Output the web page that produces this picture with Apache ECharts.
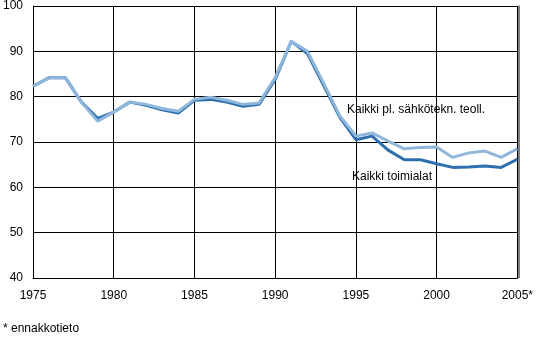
<!DOCTYPE html>
<html><head><meta charset="utf-8">
<script src="https://cdn.jsdelivr.net/npm/echarts@6/dist/echarts.min.js"></script>
<style>html,body{margin:0;padding:0;background:#fff}#c{width:536px;height:340px}</style>
</head><body><div id="c"></div>
<script>
var years = [1975,1976,1977,1978,1979,1980,1981,1982,1983,1984,1985,1986,1987,1988,1989,1990,1991,1992,1993,1994,1995,1996,1997,1998,1999,2000,2001,2002,2003,2004,2005];
var kaikkiToimialat = [82.3,84.2,84.2,78.8,75.2,76.6,78.8,78.1,77.1,76.4,79.2,79.4,78.8,77.9,78.3,83.8,92.2,89.5,82.5,75.5,70.5,71.3,68.2,66.1,66.1,65.2,64.4,64.5,64.7,64.4,66.2];
var kaikkiPl = [82.3,84.2,84.2,78.8,74.6,76.6,78.8,78.3,77.4,76.8,79.4,79.9,79.2,78.3,78.6,84.2,92.2,90.0,83.0,75.8,71.3,72.0,70.2,68.5,68.8,68.9,66.6,67.6,68.0,66.6,68.5];
var seriesNames = ['Kaikki toimialat','Kaikki pl. sähkötekn. teoll.'];
var footnote = '* ennakkotieto';

function pairs(v){return years.map(function(y,i){return [y,v[i]];});}
var chart = echarts.init(document.getElementById('c'));
var font = 'Liberation Sans, Arial, sans-serif';
chart.setOption({
  animation:false,
  grid:{left:32,right:17,top:5.5,bottom:62,containLabel:false},
  xAxis:{type:'value',min:1975,max:2005,interval:5,
    axisLine:{show:true,lineStyle:{color:'#000',width:1}},
    axisTick:{show:false},
    splitLine:{show:true,lineStyle:{color:'#000',width:1}},
    axisLabel:{color:'#000',fontFamily:font,fontSize:12,margin:12,
      formatter:function(v){return v===2005?'2005*':String(v);}}
  },
  yAxis:{type:'value',min:40,max:100,interval:10,
    axisLine:{show:true,lineStyle:{color:'#000',width:1}},
    axisTick:{show:false},
    splitLine:{show:true,lineStyle:{color:'#000',width:1}},
    axisLabel:{color:'#000',fontFamily:font,fontSize:12,margin:10}
  },
  graphic:[
    {type:'text',left:347,top:104,style:{text:seriesNames[1],font:'12px '+font,fill:'#000'}},
    {type:'text',left:352,top:171,style:{text:seriesNames[0],font:'12px '+font,fill:'#000'}},
    {type:'text',left:3,top:323,style:{text:footnote,font:'12px '+font,fill:'#000'}},
    {type:'line',shape:{x1:519,y1:5.5,x2:519,y2:278},style:{stroke:'#000',lineWidth:1}}
  ],
  series:[
    {name:seriesNames[0],type:'line',data:pairs(kaikkiToimialat),symbol:'none',
      lineStyle:{color:'#2e6fb0',width:3},z:2},
    {name:seriesNames[1],type:'line',data:pairs(kaikkiPl),symbol:'none',
      lineStyle:{color:'#8fb6db',width:3},z:3}
  ]
});
</script></body></html>
